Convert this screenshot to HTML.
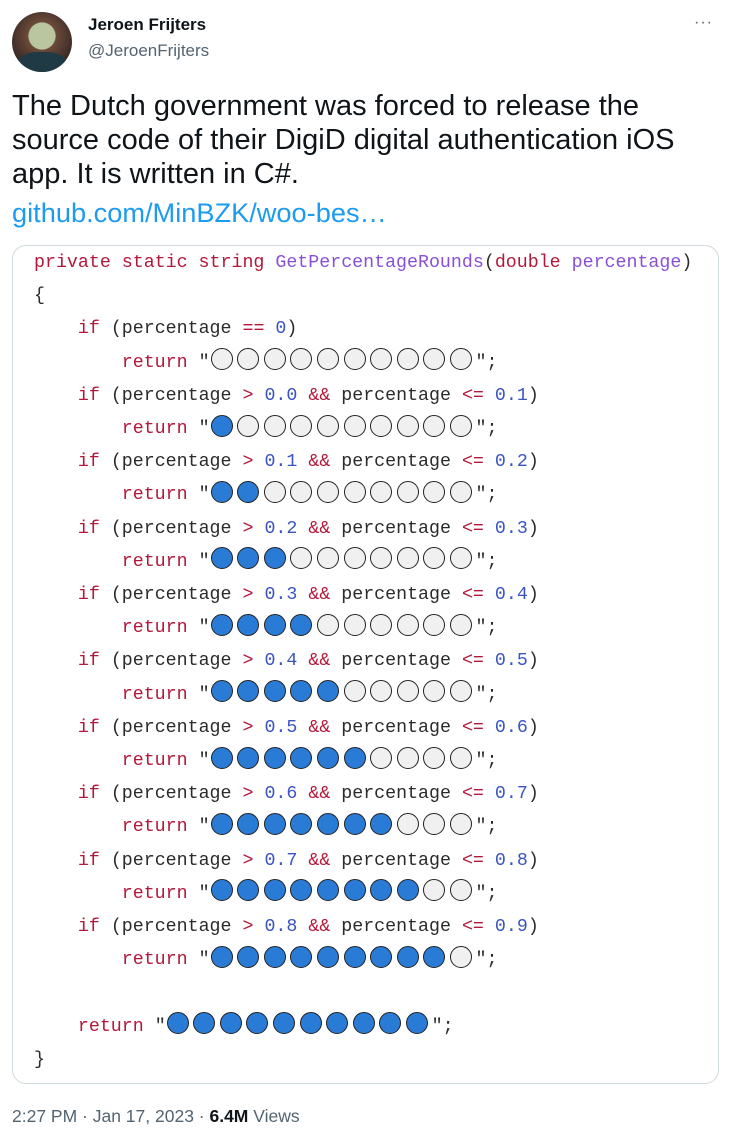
<!DOCTYPE html>
<html><head><meta charset="utf-8"><style>
body{margin:0;width:732px;height:1141px;background:#fff;position:relative;overflow:hidden;font-family:"Liberation Sans",sans-serif;}
.abs{position:absolute;}
.code{position:absolute;left:12px;top:245px;width:707px;height:839px;border:1px solid #cfd9de;border-radius:14px;box-sizing:border-box;}
.ln{position:absolute;left:34px;height:33px;line-height:33px;font-family:"Liberation Mono",monospace;font-size:18.3px;color:#2b2b2b;white-space:pre;}
.k{color:#b3183a}.m{color:#8a4fd8}.n{color:#3a55c0}
.c{display:inline-block;width:26.6px;height:23px;vertical-align:middle;position:relative;top:-2px;}
.c i{position:absolute;left:1px;top:0;width:20px;height:20px;border:1.7px solid #222;border-radius:50%;background:#f0f0f0;}
.c.b i{background:#2a7bd6;}
</style></head><body>
<div class="abs" style="left:12px;top:12px;width:60px;height:60px;border-radius:50%;background:radial-gradient(circle at 50% 40%,#b9c6a0 0 28%,#6b4a3a 30%,#3b2a25 70%);overflow:hidden"><div style="position:absolute;left:5px;top:40px;width:50px;height:30px;border-radius:40%;background:#1f3a45"></div></div>
<div class="abs" style="left:88px;top:15px;font-size:17px;font-weight:bold;color:#0f1419">Jeroen Frijters</div>
<div class="abs" style="left:88px;top:41px;font-size:17px;color:#536471">@JeroenFrijters</div>
<div class="abs" style="left:694px;top:14px;font-size:16px;color:#536471;letter-spacing:1px">···</div>
<div class="abs" style="left:12px;top:89px;font-size:29px;line-height:34px;color:#0f1419;width:720px;white-space:nowrap">The Dutch government was forced to release the<br>source code of their DigiD digital authentication iOS<br>app. It is written in C#.<br><span style="color:#1d9bf0;position:relative;top:5px;font-size:27.2px">github.com/MinBZK/woo-bes…</span></div>
<div class="code"></div>
<div id="code"></div>
<div class="abs" style="left:12px;top:1106px;font-size:17.5px;color:#536471">2:27 PM · Jan 17, 2023 · <b style="color:#0f1419">6.4M</b> Views</div>
<script>
function circ(n){let s='';for(let i=0;i<10;i++)s+='<span class="c'+(i<n?' b':'')+'"><i></i></span>';return s;}
const L=[];
L.push('<span class="k">private static string</span> <span class="m">GetPercentageRounds</span>(<span class="k">double</span> <span class="m">percentage</span>)');
L.push('{');
L.push('    <span class="k">if</span> (percentage <span class="k">==</span> <span class="n">0</span>)');
L.push('        <span class="k">return</span> "'+circ(0)+'";');
for(let j=1;j<=9;j++){
L.push('    <span class="k">if</span> (percentage <span class="k">&gt;</span> <span class="n">0.'+(j-1)+'</span> <span class="k">&amp;&amp;</span> percentage <span class="k">&lt;=</span> <span class="n">0.'+j+'</span>)');
L.push('        <span class="k">return</span> "'+circ(j)+'";');
}
L.push('');
L.push('    <span class="k">return</span> "'+circ(10)+'";');
L.push('}');
let h='';L.forEach((t,i)=>{h+='<div class="ln" style="top:'+(247+33.2*i)+'px">'+t+'</div>';});
document.getElementById('code').innerHTML=h;
</script>
</body></html>
